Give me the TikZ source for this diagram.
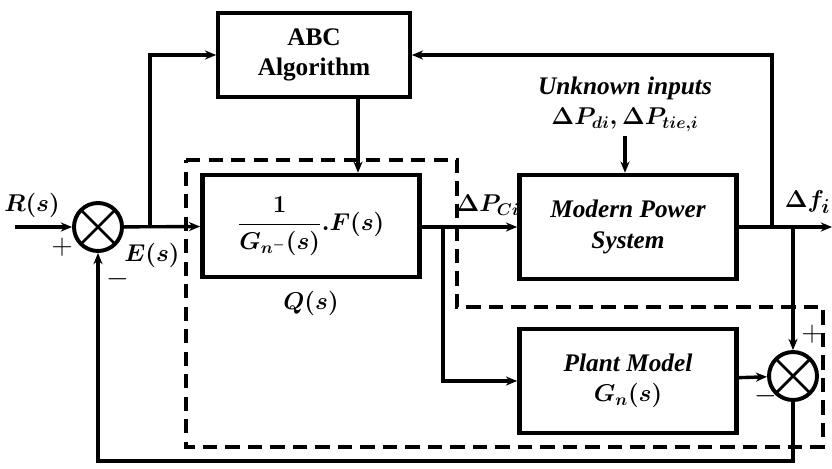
\documentclass[tikz,border=0pt]{standalone}
\usepackage{amsmath,amssymb}
\usepackage{fontspec}
\setmainfont{Liberation Serif}
\usepackage{tikz}
\usetikzlibrary{arrows.meta, positioning, calc}

\begin{document}
\begin{tikzpicture}[
  x=0.025cm, y=-0.025cm,
  box/.style={rectangle, draw, line width=3.2pt, minimum width=5.43cm, minimum height=2.6cm, align=center, font=\boldmath\fontsize{18}{21.5}\selectfont\bfseries\itshape},
  sumj/.style={circle, draw, line width=2.8pt, minimum size=1.2cm, inner sep=0pt,
    path picture={\draw[line width=2pt] (path picture bounding box.north west) -- (path picture bounding box.south east)
      (path picture bounding box.north east) -- (path picture bounding box.south west);}},
  lbl/.style={font=\boldmath\fontsize{19}{22}\selectfont\bfseries},
  sgn/.style={font=\fontsize{22}{24}\selectfont},
  arrow/.style={-{Stealth[length=8pt,width=6.5pt]}, line width=2.4pt},
  dashbox/.style={line width=3pt, dash pattern=on 10pt off 6pt}
]
  \useasboundingbox (0,0) rectangle (832,468);
  % blocks
  \node[box, line width=2.6pt, minimum width=4.8cm, minimum height=2.1cm, font=\fontsize{18}{21.5}\selectfont\bfseries] (ABC) at (314,55) {ABC\\Algorithm};
  \node[box, minimum height=2.55cm] (Q) at (311,226) {$\dfrac{1}{G_{n^-}(s)}.F(s)$};
  \node[box] (MPS) at (628,227) {Modern Power\\System};
  \node[box] (PM) at (628,381) {Plant Model\\$G_n(s)$};
  \node[sumj] (S1) at (98,227) {};
  \node[sumj] (S2) at (793,376) {};
  \node[lbl, font=\boldmath\fontsize{18}{21.5}\selectfont\bfseries\itshape, align=center] (U) at (625,104) {Unknown inputs\\$\Delta P_{di},\Delta P_{tie,i}$};
  % branch points
  \coordinate (in) at (15,227);
  \coordinate (eb) at (150,227);
  \coordinate (cb) at (443,226);
  \coordinate (fb) at (772,227);
  \coordinate (gb) at (793,227);
  \coordinate (out) at (832,227);
  \coordinate (fbk) at (793,461);
  % dashed Q(s) frame
  \draw[dashbox] (186,160) -- (457,160) -- (457,307) -- (823,307) -- (823,447) -- (186,447) -- cycle;
  % connectors
  \draw[arrow] (in) -- (S1);
  \draw[arrow] (S1) -- (Q);
  \draw[arrow] (eb) |- (ABC.west);
  \draw[arrow] ([xshift=1.1cm]ABC.south) -- ([xshift=1.1cm]ABC.south |- Q.north);
  \draw[arrow] (Q.east |- MPS.west) -- (MPS.west);
  \draw[arrow] (cb) |- (PM.west);
  \draw[arrow] (U.south) -- (U.south |- MPS.north);
  \draw[arrow] (MPS) -- (out);
  \draw[arrow] (fb) |- (ABC.east);
  \draw[arrow] (gb) -- (S2);
  \draw[arrow] (PM) -- (S2);
  \draw[arrow] (S2) -- (fbk) -| (S1);
  % labels
  \node[lbl] (R) at (32,205) {$R(s)$};
  \node[lbl] (E) at (152,255) {$E(s)$};
  \node[lbl] (Ql) at (311,303) {$Q(s)$};
  \node[lbl, font=\boldmath\fontsize{17}{20}\selectfont, anchor=south, inner sep=1pt] (PC) at (488,217) {$\Delta P_{Ci}$};
  \node[lbl, anchor=east, inner sep=1pt] (DF) at (832,202) {$\Delta f_i$};
  \node[sgn] (p1) at (62,247) {$+$};
  \node[sgn] (m1) at (118,279) {$-$};
  \node[sgn] (p2) at (812,334) {$+$};
  \node[sgn] (m2) at (766,396) {$-$};
\end{tikzpicture}
\end{document}
